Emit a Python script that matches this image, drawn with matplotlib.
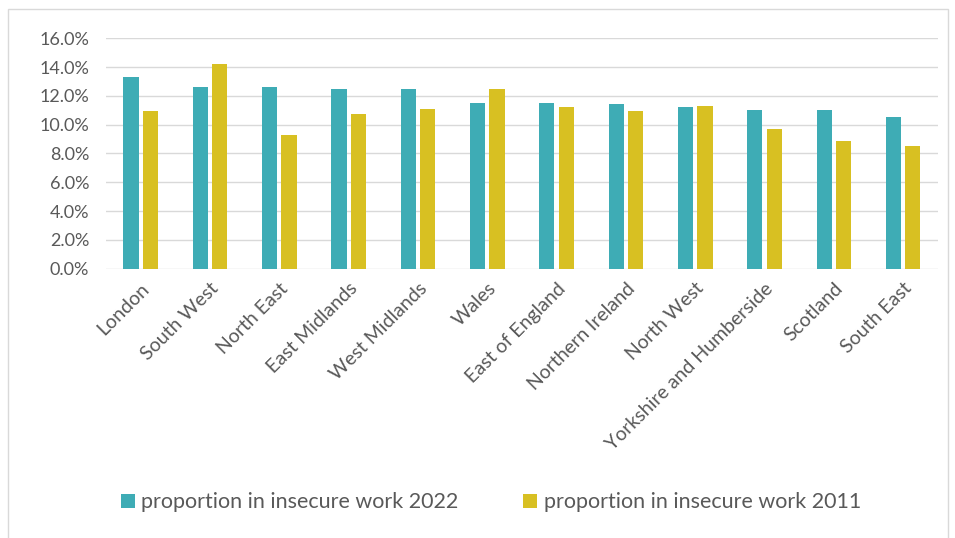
import numpy as np
import matplotlib.pyplot as plt
from matplotlib.patches import Rectangle
from matplotlib.ticker import FuncFormatter

regions = ['London', 'South West', 'North East', 'East Midlands', 'West Midlands',
           'Wales', 'East of England', 'Northern Ireland', 'North West',
           'Yorkshire and Humberside', 'Scotland', 'South East']
insecure_2022 = [13.3, 12.65, 12.6, 12.5, 12.45, 11.5, 11.5, 11.45, 11.2, 11.0, 11.0, 10.55]
insecure_2011 = [10.95, 14.2, 9.25, 10.75, 11.1, 12.5, 11.2, 10.95, 11.3, 9.7, 8.9, 8.55]

plt.rcParams['font.family'] = ['Lato', 'DejaVu Sans']
txt = '#595959'

fig = plt.figure(figsize=(9.55, 5.38), dpi=100)
ax = fig.add_axes([0.111, 0.5006, 0.871, 0.4282])

ind = np.arange(len(regions))
width = 0.22
rects1 = ax.bar(ind - 0.14, insecure_2022, width, color='#3EACB5', zorder=3)
rects2 = ax.bar(ind + 0.14, insecure_2011, width, color='#D8C022', zorder=3)

ax.set_xlim(-0.5, len(regions) - 0.5)
ax.set_ylim(0, 16)
ax.set_yticks(np.arange(0, 17, 2))
ax.yaxis.set_major_formatter(FuncFormatter(lambda v, p: '%.1f%%' % v))
ax.grid(axis='y', color='#d9d9d9', lw=1.0, zorder=0)
for s in ['top', 'right', 'left', 'bottom']:
    ax.spines[s].set_visible(False)
ax.tick_params(axis='y', length=0, colors=txt, labelsize=13, pad=12)
ax.set_xticks(ind)
ax.set_xticklabels(regions, rotation=45, ha='right', rotation_mode='anchor')
ax.tick_params(axis='x', length=0, colors=txt, labelsize=14, pad=8)

fig.legend((rects1[0], rects2[0]),
           ('proportion in insecure work 2022', 'proportion in insecure work 2011'),
           loc='center', bbox_to_anchor=(0.514, 0.066), ncol=2, frameon=False,
           fontsize=15.5, labelcolor=txt, handlelength=0.65, handleheight=0.65,
           handletextpad=0.3, columnspacing=3.0)

# outer chart border
fig.patches.append(Rectangle((8 / 955, -0.01), 940 / 955, 1 - 9 / 538 + 0.01,
                             transform=fig.transFigure, fill=False,
                             edgecolor='#d9d9d9', lw=1))

fig.savefig('out.png', dpi=100)
